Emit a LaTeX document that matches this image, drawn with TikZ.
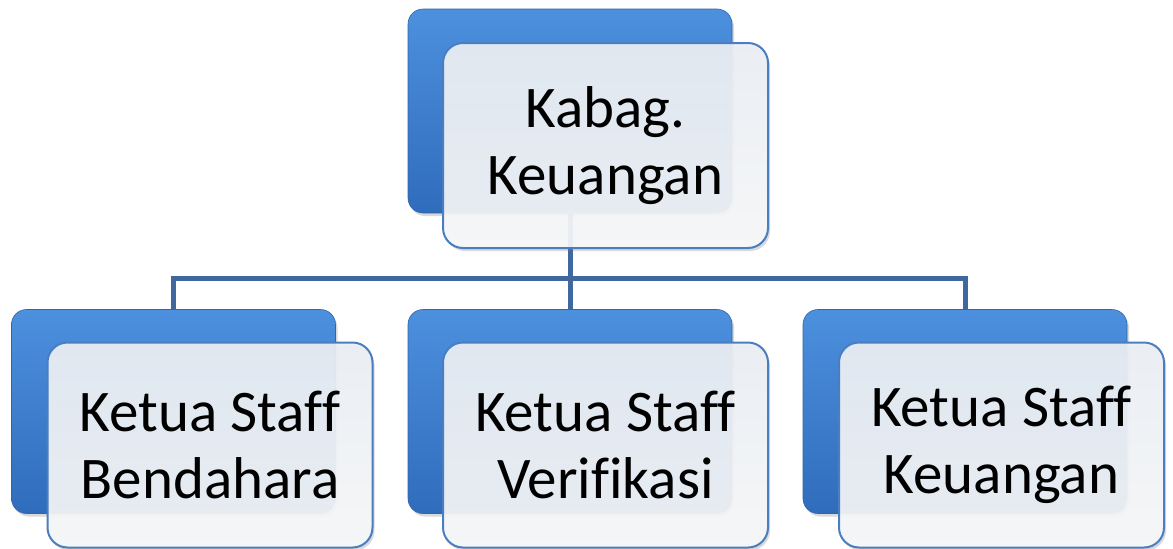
\documentclass[tikz,border=0pt]{standalone}
\usepackage{fontspec}
\setmainfont{Carlito}[Ligatures=NoCommon]
\usepackage{xcolor}
\usetikzlibrary{positioning, shadows, calc}

\definecolor{boxblue}{RGB}{63,128,210}
\definecolor{boxbluetop}{RGB}{76,144,222}
\definecolor{boxbluebot}{RGB}{48,108,188}
\definecolor{linkblue}{RGB}{62,104,158}
\definecolor{frontedge}{RGB}{74,126,192}
\definecolor{fronttop}{RGB}{236,240,245}
\definecolor{frontbot}{RGB}{247,248,249}

\begin{document}
\begin{tikzpicture}[
  x=1pt, y=-1pt,
  every node/.style={font=\fontsize{59}{67}\selectfont},
  backbox/.style={rounded corners=15pt, minimum width=324pt, minimum height=204pt,
    top color=boxbluetop, bottom color=boxbluebot, draw=boxblue!80!black, line width=0.6pt,
    drop shadow={opacity=0.3, shadow xshift=2pt, shadow yshift=-3pt}},
  frontbox/.style={rounded corners=20pt, minimum width=325pt, minimum height=205pt,
    top color=fronttop, bottom color=frontbot, fill opacity=0.92, text opacity=1,
    draw=frontedge, draw opacity=1, line width=2pt, align=center,
    drop shadow={opacity=0.3, shadow xshift=2pt, shadow yshift=-3pt}},
  link/.style={draw=linkblue, line width=5pt}
]
\useasboundingbox (0,0) rectangle (1173,549);

% Back boxes
\node[backbox] (kabagb) at (570, 111) {};
\node[backbox] (bendb) at (173.5, 411.5) {};
\node[backbox] (verb) at (570, 411.5) {};
\node[backbox] (keub) at (965, 411.5) {};

% Connectors
\coordinate (bus) at (570, 278);
\draw[link] (kabagb.south) -- (bus);
\draw[link] (bus) -| (bendb.north);
\draw[link] (bus) -| (keub.north);
\draw[link] (bus) -- (verb.north);

% Front boxes
\node[frontbox] (kabag) at (605.5, 145.5) {Kabag.\\Keuangan};
\node[frontbox] (bend) at (210, 445) {Ketua Staff\\Bendahara};
\node[frontbox] (ver) at (605.5, 445) {Ketua Staff\\Verifikasi};
\node[frontbox] (keu) at (1001.5, 445) {Ketua Staff\\Keuangan};

\end{tikzpicture}
\end{document}
